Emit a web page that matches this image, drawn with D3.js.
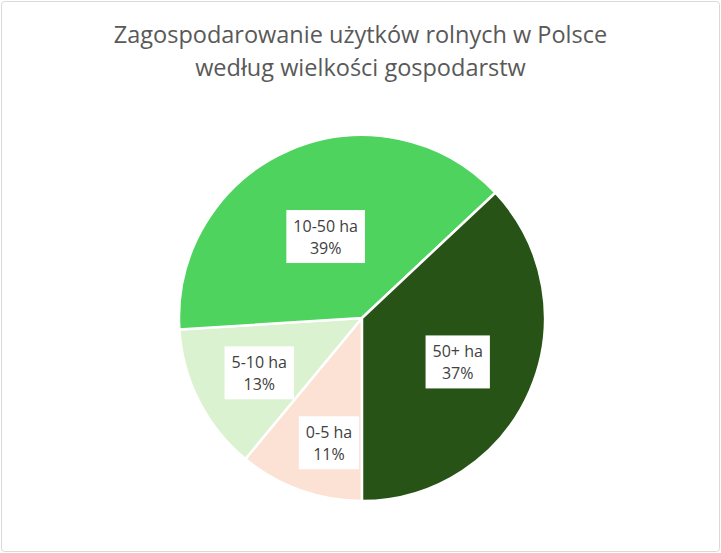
<!DOCTYPE html>
<html>
<head>
<meta charset="utf-8">
<script src="https://cdn.jsdelivr.net/npm/d3@7"></script>
<style>
  html, body { margin: 0; padding: 0; background: #fff; }
  svg text { font-family: "Open Sans", "Noto Sans", sans-serif; }
</style>
</head>
<body>
<div id="chart"></div>
<script>
// data
const categories = ['0-5 ha', '5-10 ha', '10-50 ha', '50+ ha'];
const shares = [11, 13, 39, 37];
const colors = ['#fbe2d5', '#daf2d0', '#4ed35f', '#275317'];
const titleLines = ['Zagospodarowanie użytków rolnych w Polsce', 'według wielkości gospodarstw'];

// where each label sits along its slice (fraction of radius)
const labelRadius = [0.71, 0.63, 0.5, 0.57];

const width = 721, height = 553;
const cx = 362, cy = 318, r = 183;

const svg = d3.select('#chart').append('svg')
    .attr('width', width)
    .attr('height', height);

svg.append('rect')
    .attr('x', 1.5).attr('y', 1.5)
    .attr('width', width - 3).attr('height', height - 3)
    .attr('rx', 3)
    .attr('fill', '#fff')
    .attr('stroke', '#d9d9d9');

svg.append('g').selectAll('text')
    .data(titleLines)
    .join('text')
    .attr('x', width / 2)
    .attr('y', (d, i) => 43 + i * 33)
    .attr('text-anchor', 'middle')
    .attr('fill', '#595959')
    .style('font-size', '23.5px')
    .text(d => d);

const pieData = categories.map((c, i) => ({cat: c, value: shares[i], i}));

// Excel: first slice starts at 180 degrees
const pie = d3.pie()
    .sort(null)
    .value(d => d.value)
    .startAngle(Math.PI)
    .endAngle(3 * Math.PI);

const arcs = pie(pieData);
const arc = d3.arc().innerRadius(0).outerRadius(r);

const g = svg.append('g').attr('transform', `translate(${cx},${cy})`);

g.selectAll('path')
    .data(arcs)
    .join('path')
    .attr('d', arc)
    .attr('fill', d => colors[d.data.i])
    .attr('stroke', '#fff')
    .attr('stroke-width', 2.5)
    .attr('stroke-linejoin', 'round');

const labels = g.selectAll('g.lbl')
    .data(arcs)
    .join('g')
    .attr('class', 'lbl')
    .attr('transform', d => {
        const lr = r * labelRadius[d.data.i];
        const c = d3.arc().innerRadius(lr).outerRadius(lr).centroid(d);
        // Excel nudges the small bottom label towards the vertical
        const dx = d.data.i === 0 ? 11 : 0;
        return `translate(${c[0] + dx},${c[1] + 3})`;
    });

labels.each(function(d) {
    const sel = d3.select(this);
    const rect = sel.append('rect').attr('fill', '#fff');
    const t = sel.append('text')
        .attr('text-anchor', 'middle')
        .attr('fill', '#404040')
        .style('font-size', '16px');
    t.append('tspan').attr('x', 0).attr('y', -5).text(d.data.cat);
    t.append('tspan').attr('x', 0).attr('y', 17).text(d.data.value + '%');
    const bb = t.node().getBBox();
    rect.attr('x', bb.x - 7).attr('y', bb.y - 5)
        .attr('width', bb.width + 14).attr('height', bb.height + 9);
});
</script>
</body>
</html>
